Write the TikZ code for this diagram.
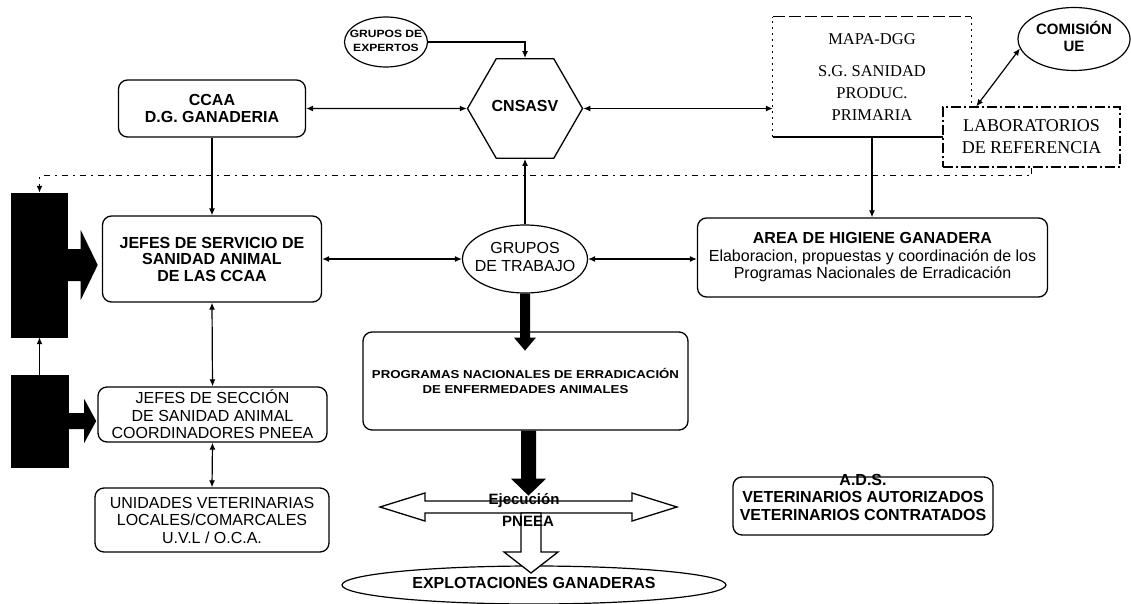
\documentclass[tikz,border=0pt]{standalone}
\usepackage{fontspec}
\setmainfont{Liberation Sans}
\newfontfamily\ars{Liberation Sans}
\newfontfamily\arw{Liberation Sans}[FakeStretch=1.15]
\newfontfamily\tms{Liberation Serif}
\usetikzlibrary{shapes.geometric,arrows.meta,calc}
\newcommand{\zw}[1]{\makebox[0pt]{\begin{tabular}{@{}c@{}}#1\end{tabular}}}
\begin{document}
\begin{tikzpicture}[x=1pt,y=-1pt,
  >={Latex[length=7pt,width=6pt]},
  ln/.style={line width=1.2pt},
  rbox/.style={draw, line width=1.3pt, rounded corners=9pt, align=center, inner sep=0pt},
  oval/.style={draw, ellipse, line width=1.2pt, align=center, inner sep=0pt},
  sb/.style={font=\ars\bfseries\fontsize{16}{17}\selectfont},
  sr/.style={font=\ars\fontsize{16}{17.5}\selectfont},
  blk/.style={fill=black, draw=black, inner sep=0pt},
  dotline/.style={line width=1.6pt, dash pattern=on 6pt off 5pt on 2pt off 5pt},
  wblock/.style={draw=black, line width=1.3pt, fill=white, line join=miter}]
\useasboundingbox (0,0) rectangle (1131,604);

% --- top row ---
\node[oval, minimum width=83pt, minimum height=50pt, font=\arw\bfseries\fontsize{10.5}{14}\selectfont] (expertos) at (386,42) {\zw{GRUPOS DE\\EXPERTOS}};
\node[draw, regular polygon, regular polygon sides=6, minimum size=115pt, inner sep=0pt, line width=1.3pt, font=\ars\bfseries\fontsize{16}{17}\selectfont] (hex) at (525,108.5) {\zw{CNSASV}};
\node[rbox, sb, minimum width=187pt, minimum height=57pt] (ccaa) at (212,108.5) {CCAA\\D.G. GANADERIA};
\node[minimum width=198pt, minimum height=120pt, inner sep=0pt, align=center, font=\tms\fontsize{16.5}{22}\selectfont] (mapa) at (872,77) {MAPA-DGG\\[10pt]S.G. SANIDAD\\PRODUC.\\PRIMARIA};
\draw[line width=1.2pt, dash pattern=on 2pt off 4pt] (mapa.south west) -- (mapa.north west) (mapa.north east) -- (mapa.south east);
\draw[line width=1.2pt, dash pattern=on 12pt off 4pt] (mapa.north west) -- (mapa.north east);
\draw[line width=1.6pt] (mapa.south west) -- (mapa.south east);
\node[draw, fill=white, line width=1.2pt, dash pattern=on 10pt off 3pt on 2pt off 3pt, minimum width=177pt, minimum height=60pt, inner sep=0pt, align=center, font=\tms\fontsize{18}{22}\selectfont] (lab) at (1031.5,137) {LABORATORIOS\\DE REFERENCIA};
\node[oval, minimum width=112pt, minimum height=63pt, font=\ars\bfseries\fontsize{15}{17}\selectfont] (comision) at (1074,39) {\zw{COMISIÓN\\UE}};

% --- middle row ---
\node[blk, minimum width=56pt, minimum height=144pt] (bb1) at (39.5,265) {};
\node[blk, minimum width=57pt, minimum height=92pt] (bb2) at (39.5,421) {};
\node[rbox, font=\ars\bfseries\fontsize{16}{16.5}\selectfont, minimum width=219pt, minimum height=86pt] (jefes) at (212,259) {JEFES DE SERVICIO DE\\SANIDAD ANIMAL\\DE LAS CCAA};
\node[oval, minimum width=125pt, minimum height=68pt, font=\ars\fontsize{16}{18}\selectfont] (gt) at (525,259) {\zw{GRUPOS\\DE TRABAJO}};
\node[rbox, minimum width=350pt, minimum height=79pt, font=\ars\fontsize{16}{17.5}\selectfont] (area) at (872.5,257.5) {{\bfseries AREA DE HIGIENE GANADERA}\\Elaboracion, propuestas y coordinación de los\\Programas Nacionales de Erradicación};

% --- lower rows ---
\node[rbox, sr, minimum width=229pt, minimum height=55pt] (seccion) at (212.5,414.5) {JEFES DE SECCIÓN\\DE SANIDAD ANIMAL\\COORDINADORES PNEEA};
\node[rbox, sr, minimum width=234pt, minimum height=64pt] (unidades) at (212,520) {UNIDADES VETERINARIAS\\LOCALES/COMARCALES\\U.V.L / O.C.A.};
\node[rbox, minimum width=325pt, minimum height=98pt, font=\arw\bfseries\fontsize{11.5}{15}\selectfont] (prog) at (525.5,381) {PROGRAMAS NACIONALES DE ERRADICACIÓN\\DE ENFERMEDADES ANIMALES};
\node[rbox, minimum width=260pt, minimum height=58pt] (ads) at (863,506) {};
\node[font=\ars\bfseries\fontsize{16}{17.5}\selectfont, align=center, inner sep=0pt] (adstext) at (863,497) {A.D.S.\\VETERINARIOS AUTORIZADOS\\VETERINARIOS CONTRATADOS};
\node[oval, minimum width=384pt, minimum height=38pt, font=\ars\bfseries\fontsize{16}{17}\selectfont] (explot) at (534,585) {\zw{EXPLOTACIONES GANADERAS}};

% --- thin connectors ---
\draw[ln,->] (expertos.east) -| (hex.north);
\draw[ln,<->] (ccaa.east) -- (hex.west);
\draw[ln,<->] (hex.east) -- (hex.east -| mapa.west);
\draw[ln,->] (ccaa.south) -- (jefes.north);
\draw[ln,<->] (jefes.east) -- (gt.west);
\draw[ln,<->] (jefes.south) -- (seccion.north);
\draw[ln,<->] (seccion.south) -- (unidades.north);
\draw[ln,->] (gt.north) -- (hex.south);
\draw[ln,<->] (gt.east) -- (gt.east -| area.west);
\draw[ln,->] (mapa.south) -- (mapa.south |- area.north);
\draw[ln,<->] (comision.190) -- ($(lab.north west)!0.19!(lab.north east)$);
\draw[dotline,->] (lab.south) -- ++(0,8) -| (bb1.north);
\draw[ln,->] (bb2.north) -- (bb1.south);

% --- block arrows from the black boxes ---
\fill ($(bb1.east)+(0,-16)$) -- ++(13,0) -- ++(0,-19) -- ++(17,35) -- ++(-17,35) -- ++(0,-19) -- ++(-13,0) -- cycle;
\fill ($(bb2.east)+(0,-8)$) -- ++(16,0) -- ++(0,-14) -- ++(12,22) -- ++(-12,22) -- ++(0,-14) -- ++(-16,0) -- cycle;

% --- central vertical arrows ---
\fill ($(gt.south)+(-5,0)$) -- ++(10,0) -- ++(0,44) -- ++(6,0) -- ++(-11,13) -- ++(-11,-13) -- ++(6,0) -- cycle;
\coordinate (ejec) at (528.5,507);
\filldraw[wblock] ($(ejec)+(-148.5,0)$) -- ++(45,-14) -- ++(0,8) -- ++(207,0) -- ++(0,-8) -- ++(45,14) -- ++(-45,14) -- ++(0,-8) -- ++(-207,0) -- ++(0,8) -- cycle;
\fill ($(prog.south)+(-4.5,0)$) -- ++(15,0) -- ++(0,48) -- ++(10,0) -- ++(-17.5,17) -- ++(-17.5,-17) -- ++(10,0) -- cycle;
\filldraw[wblock] (521,513) -- (541,513) -- (541,552) -- (558,552) -- (531,573) -- (504,552) -- (521,552) -- cycle;
\node[font=\ars\bfseries\fontsize{15}{16}\selectfont, inner sep=0pt] (ejtxt) at (524,501) {Ejecución};
\node[font=\ars\bfseries\fontsize{15}{16}\selectfont, inner sep=0pt] (pneea) at (528,521) {PNEEA};
\end{tikzpicture}
\end{document}
